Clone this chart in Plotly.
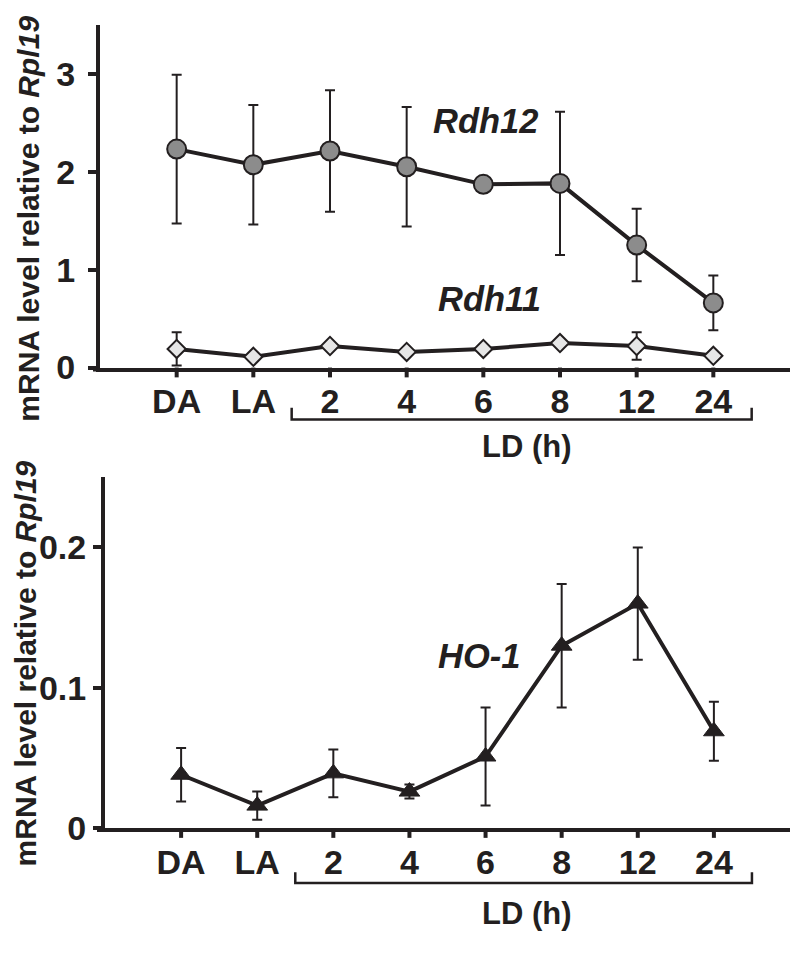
import plotly.graph_objects as go

categories = ["DA", "LA", "2", "4", "6", "8", "12", "24"]

rdh12 = [2.23, 2.07, 2.21, 2.05, 1.87, 1.88, 1.25, 0.66]
rdh12_err = [0.76, 0.61, 0.62, 0.61, 0.05, 0.73, 0.37, 0.28]

rdh11 = [0.19, 0.11, 0.22, 0.16, 0.19, 0.25, 0.22, 0.12]
rdh11_err = [0.17, 0.02, 0.03, 0.02, 0.03, 0.04, 0.14, 0.02]

ho1 = [0.038, 0.016, 0.039, 0.026, 0.051, 0.130, 0.160, 0.069]
ho1_err = [0.019, 0.010, 0.017, 0.005, 0.035, 0.044, 0.040, 0.021]

top_yticks = [0, 1, 2, 3]
bot_yticks = [0, 0.1, 0.2]
bot_yticktext = ["0", "0.1", "0.2"]

INK = "#231f20"
FONT = "Liberation Sans, Arial, sans-serif"

# page is 800x955; the html body keeps its 8px margin, so the figure is 784x939
PAGE_W, PAGE_H, OFF = 800, 955, 8
W, H = PAGE_W - 2 * OFF, PAGE_H - 2 * OFF

def px(pix):
    return (pix - OFF) / W

def py(pix):
    return (H - (pix - OFF)) / H

xpos = list(range(len(categories)))

fig = go.Figure()

def err(vals):
    return dict(type="data", array=vals, visible=True, color=INK, thickness=2, width=5)

fig.add_trace(go.Scatter(
    x=xpos, y=rdh12, mode="lines+markers", xaxis="x", yaxis="y",
    line=dict(color=INK, width=4),
    marker=dict(symbol="circle", size=19, color="#8c8c8c", line=dict(color=INK, width=2)),
    error_y=err(rdh12_err), showlegend=False))

fig.add_trace(go.Scatter(
    x=xpos, y=rdh11, mode="lines+markers", xaxis="x", yaxis="y",
    line=dict(color=INK, width=4),
    marker=dict(symbol="diamond", size=14, color="#e6e6e6", line=dict(color=INK, width=2)),
    error_y=err(rdh11_err), showlegend=False))

fig.add_trace(go.Scatter(
    x=xpos, y=ho1, mode="lines+markers", xaxis="x2", yaxis="y2",
    line=dict(color=INK, width=4),
    marker=dict(symbol="triangle-up", size=18, color=INK, line=dict(color=INK, width=1)),
    error_y=err(ho1_err), showlegend=False))

tickfont = dict(family=FONT, size=34, color=INK, weight="bold")
common_x = dict(type="linear", range=[-1, 8], tickmode="array", tickvals=xpos, ticktext=categories,
                showline=True, linewidth=4, linecolor=INK,
                ticks="", ticklen=0, ticklabelstandoff=1,
                tickfont=tickfont, showgrid=False, zeroline=False, fixedrange=True)
common_y = dict(showline=True, linewidth=4, linecolor=INK,
                ticks="outside", ticklen=8, tickwidth=4, tickcolor=INK,
                tickfont=tickfont, showgrid=False, zeroline=False, fixedrange=True)

TOP_AX, BOT_AX = 375, 845

fig.update_layout(
    width=W, height=H,
    margin=dict(l=0, r=0, t=0, b=0),
    paper_bgcolor="white", plot_bgcolor="white",
    xaxis=dict(common_x, domain=[px(100), px(790)], anchor="y"),
    yaxis=dict(common_y, domain=[py(TOP_AX), py(25)], range=[0, 3.5], ticklabelstandoff=6,
               tickvals=top_yticks, ticktext=[str(v) for v in top_yticks], anchor="x"),
    xaxis2=dict(common_x, domain=[px(105), px(790)], anchor="y2"),
    yaxis2=dict(common_y, domain=[py(BOT_AX), py(487)], range=[0, 0.25], ticklabelstandoff=0,
                tickvals=bot_yticks, ticktext=bot_yticktext, anchor="x2"),
)

gene_font = dict(family=FONT, size=34.5, color=INK, weight="bold")
ld_font = dict(family=FONT, size=31, color=INK, weight="bold")
title_font = dict(family=FONT, size=30, color=INK, weight="bold")
C = dict(showarrow=False, xanchor="center", yanchor="middle")
annotations = [
    dict(text="<i>Rdh12</i>", x=4.03, y=2.52, xref="x", yref="y", font=gene_font, **C),
    dict(text="<i>Rdh11</i>", x=4.08, y=0.70, xref="x", yref="y", font=gene_font, **C),
    dict(text="<i>HO-1</i>", x=3.91, y=0.1226, xref="x2", yref="y2", font=gene_font, **C),
    dict(text="LD (h)", x=px(527), y=py(456), xref="paper", yref="paper", font=ld_font, **C),
    dict(text="LD (h)", x=px(527), y=py(932), xref="paper", yref="paper", font=ld_font, **C),
    dict(text="mRNA level relative to <i>Rpl19</i>", x=px(29), y=py(223), xref="paper", yref="paper",
         textangle=-90, font=title_font, **C),
    dict(text="mRNA level relative to <i>Rpl19</i>", x=px(25), y=py(677), xref="paper", yref="paper",
         textangle=-90, font=title_font, **C),
]
fig.update_layout(annotations=annotations)

shapes = []
# LD brackets
for xr, ybase, ytop in [("x", 428, 416), ("x2", 901, 890)]:
    shapes.append(dict(type="path", xref=xr, yref="paper",
                       path=f"M 1.5,{py(ytop)} L 1.5,{py(ybase)} L 7.5,{py(ybase)} L 7.5,{py(ytop)}",
                       line=dict(color=INK, width=2.5)))
# x tick marks below the axis lines
for xr, ax_pix in [("x", TOP_AX), ("x2", BOT_AX)]:
    for xv in xpos:
        shapes.append(dict(type="line", xref=xr, yref="paper", x0=xv, x1=xv,
                           y0=py(ax_pix), y1=py(ax_pix + 10), line=dict(color=INK, width=4)))
# short stub of the x-axis line reaching left of the y axis
for x0, x1, ax_pix in [(93, 100, TOP_AX), (97, 105, BOT_AX)]:
    shapes.append(dict(type="line", xref="paper", yref="paper", x0=px(x0), x1=px(x1),
                       y0=py(ax_pix + 2), y1=py(ax_pix + 2), line=dict(color=INK, width=4)))
fig.update_layout(shapes=shapes)

fig.write_html("out.html")
